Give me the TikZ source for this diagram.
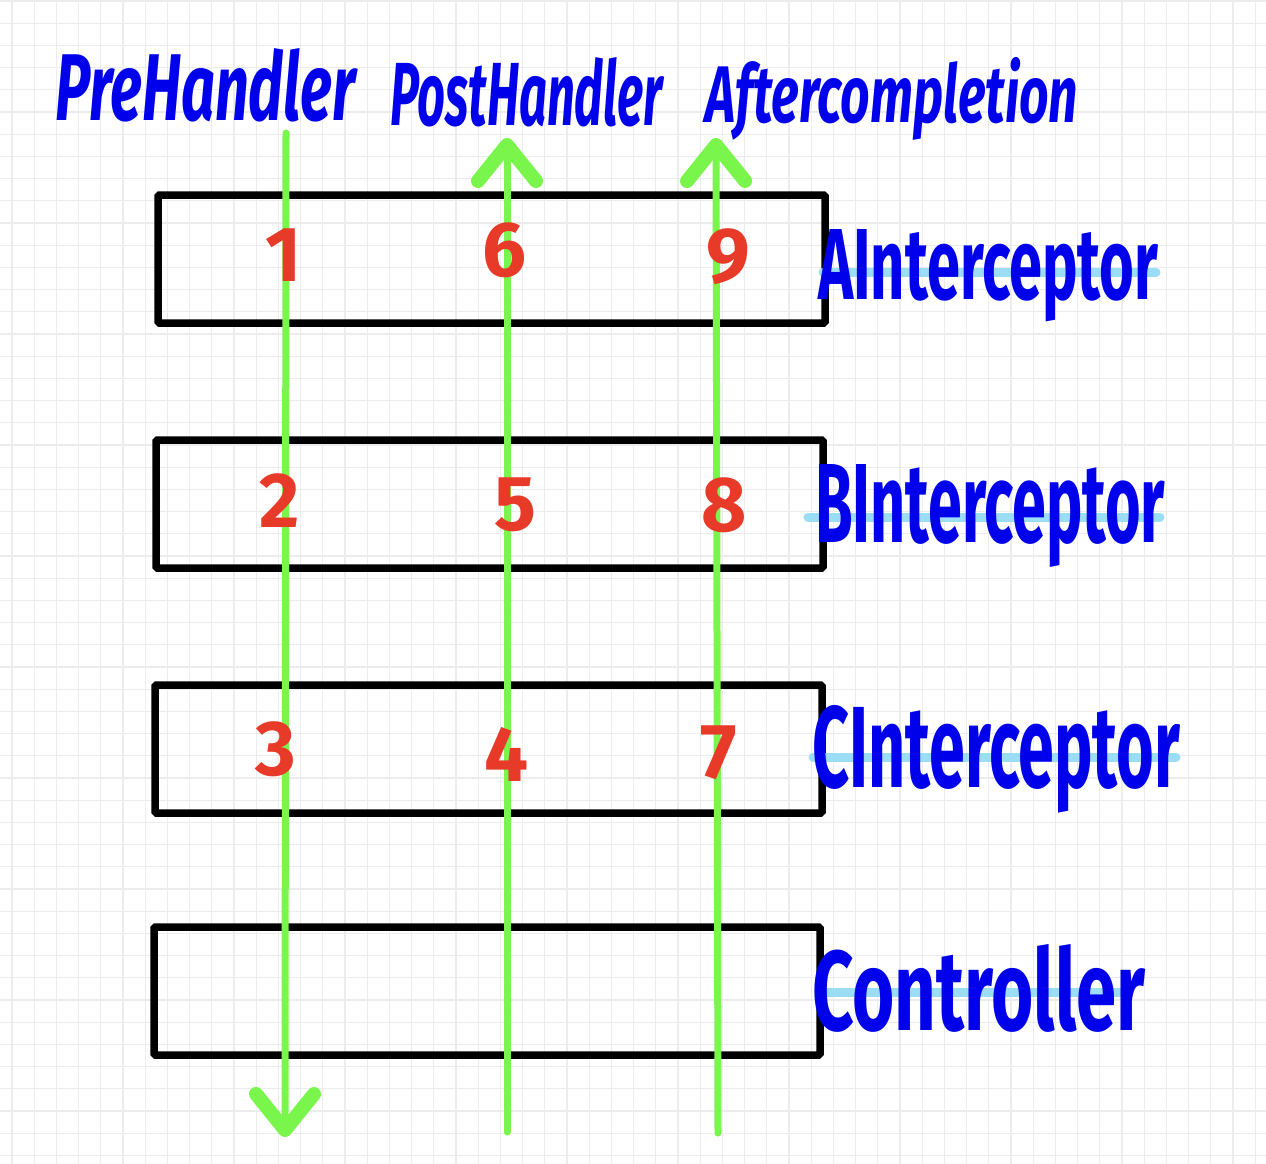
\documentclass[tikz,border=0pt]{standalone}
\usepackage{fontspec}
\usepackage{graphicx}
\setmainfont{Fira Sans}
\usetikzlibrary{arrows.meta}
\definecolor{gridc}{RGB}{236,236,236}
\definecolor{flow}{RGB}{122,245,76}
\definecolor{numred}{RGB}{232,58,40}
\definecolor{ink}{RGB}{0,0,235}
\definecolor{hilite}{RGB}{155,221,245}
\begin{document}
\begin{tikzpicture}[x=1pt,y=-1pt,
  gridline/.style={draw=gridc,line width=1.2pt},
  layerbox/.style={draw=black,line width=7.5pt,rectangle,minimum width=667pt,minimum height=128pt,inner sep=0pt,rounded corners=1.5pt},
  flowline/.style={draw=flow,line width=7pt,line cap=round,-{Straight Barb[length=36pt,width=58pt,line width=14pt,round]}},
  num/.style={text=numred,font=\bfseries\fontsize{78}{78}\selectfont,inner sep=0pt},
  lbl/.style={text=ink,inner sep=0pt,anchor=base west},
  hl/.style={draw=hilite,line width=9pt,line cap=round}]
\useasboundingbox (0,0) rectangle (1266,1164);
\fill[white] (0,0) rectangle (1266,1164);
% grid
\foreach \i in {0,...,56} \draw[gridline] (12+\i*22.2,0) -- (12+\i*22.2,1164);
\foreach \j in {0,...,52} \draw[gridline] (0,1+\j*22.2) -- (1266,1+\j*22.2);
% layer boxes
\node[layerbox] (boxA) at (491.5,259) {};
\node[layerbox] (boxB) at (489.5,504) {};
\node[layerbox] (boxC) at (488.5,749) {};
\node[layerbox,minimum width=666pt] (boxD) at (487,991) {};
% highlights
\draw[hl] (823,272) -- (1156,272);
\draw[hl] (808,517) -- (1160,517);
\draw[hl] (813,757) -- (1176,757);
\draw[hl] (823,992) -- (1120,992);
% flow coordinates
\coordinate (preTop) at (286,133);
\coordinate (preBot) at (285,1137);
\coordinate (postBot) at (507,1132);
\coordinate (postTop) at (507,138);
\coordinate (aftBot) at (718,1133);
\coordinate (aftTop) at (716,138);
\draw[flowline] (preTop) -- (preBot);
\draw[flowline] (postBot) -- (postTop);
\draw[flowline] (aftBot) -- (aftTop);
% numbers
\node[num] (n1) at (284,255) {1};
\node[num] (n6) at (504,250) {6};
\node[num] (n9) at (728,257) {9};
\node[num] (n2) at (280,501) {2};
\node[num] (n5) at (515,505) {5};
\node[num] (n8) at (724,505) {8};
\node[num] (n3) at (276,749) {3};
\node[num] (n4) at (507,754) {4};
\node[num] (n7) at (719,753) {7};
% labels
\node[lbl] (lpre) at (55,120) {\resizebox{300pt}{72pt}{\bfseries\itshape PreHandler}};
\node[lbl] (lpost) at (390,125) {\resizebox{272pt}{68pt}{\bfseries\itshape PostHandler}};
\node[lbl] (laft) at (705,122) {\resizebox{373pt}{65pt}{\bfseries\itshape Aftercompletion}};
\node[lbl] (lA) at (818,299) {\resizebox{340pt}{70pt}{\bfseries AInterceptor}};
\node[lbl] (lB) at (815,542) {\resizebox{350pt}{78pt}{\bfseries BInterceptor}};
\node[lbl] (lC) at (812,787) {\resizebox{368pt}{82pt}{\bfseries CInterceptor}};
\node[lbl] (lD) at (812,1030) {\resizebox{333pt}{86pt}{\bfseries Controller}};
\end{tikzpicture}
\end{document}
